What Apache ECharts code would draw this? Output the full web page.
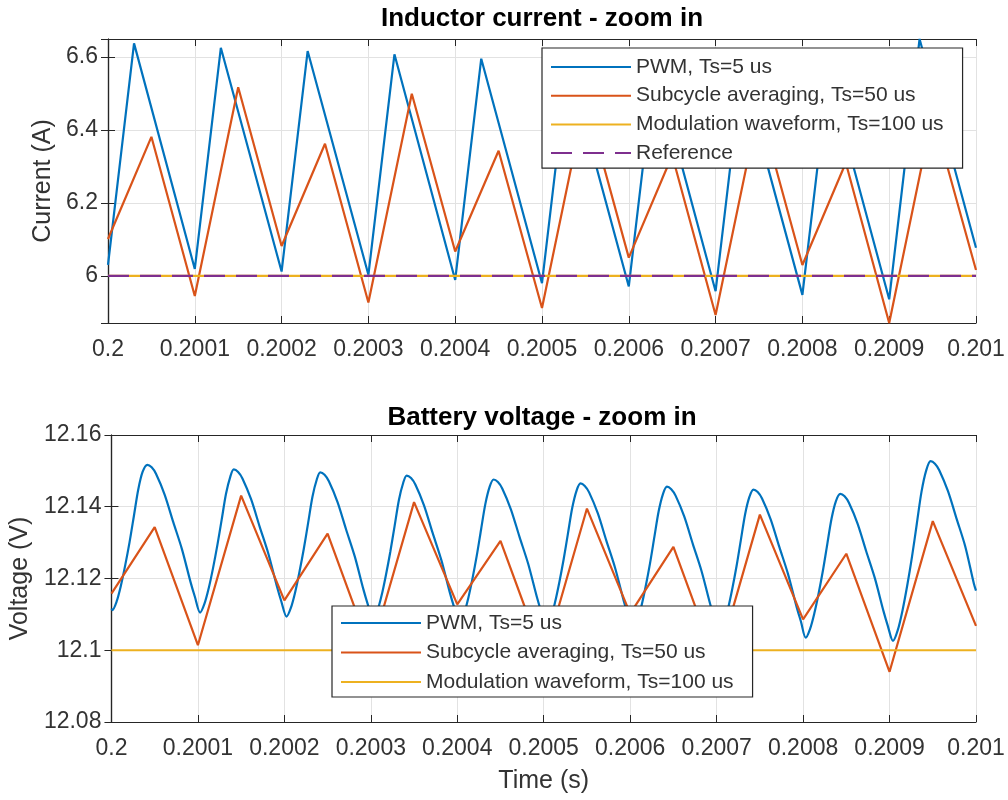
<!DOCTYPE html>
<html><head><meta charset="utf-8">
<script src="https://cdn.jsdelivr.net/npm/echarts@6/dist/echarts.min.js"></script>
<style>html,body{margin:0;padding:0;background:#fff}#c{width:1008px;height:800px}</style>
</head><body><div id="c"></div>
<script>
// Time axis: microseconds after t = 0.2 s
const xTickLabels = ['0.2','0.2001','0.2002','0.2003','0.2004','0.2005','0.2006','0.2007','0.2008','0.2009','0.201'];
const seriesNames = ['PWM, Ts=5 us','Subcycle averaging, Ts=50 us','Modulation waveform, Ts=100 us','Reference'];

// ---- Inductor current (A) ----
const pwmCurrent = [[0,6.030],[30,6.637],[100,6.019],[130,6.625],[200,6.012],[230,6.616],[300,6.003],[330,6.607],
  [400,5.989],[430,6.595],[500,5.980],[530,6.585],[600,5.971],[630,6.576],[700,5.958],[730,6.563],
  [800,5.948],[830,6.553],[900,5.936],[935,6.649],[1000,6.077]];
const subcycleCurrent = [[0,6.101],[50,6.381],[100,5.945],[150,6.517],[200,6.082],[250,6.362],[300,5.927],[350,6.499],
  [400,6.067],[450,6.343],[500,5.912],[550,6.484],[600,6.050],[650,6.330],[700,5.893],[750,6.465],
  [800,6.030],[850,6.310],[900,5.871],[950,6.445],[1000,6.016]];
const modulationCurrent = [[0,6.0],[1000,6.0]];
const referenceCurrent = [[0,6.0],[1000,6.0]];

// ---- Battery voltage (V) ----
const pwmVoltage = [
 [0,12.1116],[1,12.1112],[6,12.1136],[11,12.1181],[16,12.1238],[21,12.1302],[26,12.1375],[31,12.1448],[36,12.1497],[41.5,12.1517],[46.5,12.1510],[51.5,12.1492],[61.5,12.1434],[71.5,12.1357],[81.5,12.1282],[91.5,12.1190],[96.5,12.1149],
 [102.5,12.1105],[107.5,12.1129],[112.5,12.1173],[117.5,12.1229],[122.5,12.1293],[127.5,12.1364],[132.5,12.1436],[137.5,12.1484],[141.5,12.1504],[146.5,12.1497],[151.5,12.1479],[161.5,12.1421],[171.5,12.1344],[181.5,12.1269],[191.5,12.1177],[196.5,12.1136],
 [202.5,12.1094],[207.5,12.1118],[212.5,12.1162],[217.5,12.1219],[222.5,12.1283],[227.5,12.1355],[232.5,12.1428],[237.5,12.1476],[241.5,12.1496],[246.5,12.1489],[251.5,12.1471],[261.5,12.1413],[271.5,12.1336],[281.5,12.1261],[291.5,12.1169],[296.5,12.1128],
 [302.5,12.1085],[307.5,12.1109],[312.5,12.1153],[317.5,12.1210],[322.5,12.1274],[327.5,12.1346],[332.5,12.1419],[337.5,12.1467],[341.5,12.1487],[346.5,12.1480],[351.5,12.1462],[361.5,12.1404],[371.5,12.1327],[381.5,12.1252],[391.5,12.1160],[396.5,12.1119],
 [402.5,12.1075],[407.5,12.1099],[412.5,12.1143],[417.5,12.1199],[422.5,12.1263],[427.5,12.1336],[432.5,12.1408],[437.5,12.1456],[442,12.1476],[447,12.1469],[452,12.1451],[462,12.1393],[472,12.1316],[482,12.1241],[492,12.1149],[497,12.1108],
 [503,12.1065],[508,12.1089],[513,12.1133],[518,12.1189],[523,12.1253],[528,12.1325],[533,12.1397],[538,12.1445],[542.5,12.1465],[547.5,12.1458],[552.5,12.1440],[562.5,12.1382],[572.5,12.1305],[582.5,12.1230],[592.5,12.1138],[597.5,12.1097],
 [603,12.1055],[608,12.1079],[613,12.1123],[618,12.1179],[623,12.1243],[628,12.1316],[633,12.1388],[638,12.1436],[642.5,12.1456],[647.5,12.1449],[652.5,12.1431],[662.5,12.1373],[672.5,12.1296],[682.5,12.1221],[692.5,12.1129],[697.5,12.1088],
 [703,12.1045],[708,12.1069],[713,12.1114],[718,12.1170],[723,12.1234],[728,12.1307],[733,12.1380],[738,12.1428],[742.5,12.1448],[747.5,12.1441],[752.5,12.1423],[762.5,12.1365],[772.5,12.1288],[782.5,12.1213],[792.5,12.1121],[797.5,12.1080],
 [803,12.1035],[808,12.1059],[813,12.1103],[818,12.1159],[823,12.1223],[828,12.1296],[833,12.1368],[838,12.1416],[843,12.1436],[848,12.1429],[853,12.1411],[863,12.1353],[873,12.1276],[883,12.1201],[893,12.1109],[898,12.1068],
 [904,12.1026],[909.5,12.1056],[915,12.1111],[920.5,12.1181],[926,12.1261],[931.5,12.1352],[937,12.1442],[942.5,12.1502],[947.5,12.1527],[952.5,12.1520],[957.5,12.1502],[967.5,12.1444],[977.5,12.1367],[987.5,12.1290],[997.5,12.1186],[1000,12.1166]
];
const subcycleVoltage = [[0,12.1158],[50,12.1343],[100,12.1014],[150,12.1431],[200,12.1139],[250,12.1325],[300,12.0996],[350,12.1413],
  [400,12.1128],[450,12.1305],[500,12.0977],[550,12.1395],[600,12.1102],[650,12.1288],[700,12.0960],[750,12.1378],
  [800,12.1086],[850,12.1269],[900,12.0940],[950,12.1360],[1000,12.1068]];
const modulationVoltage = [[0,12.1],[1000,12.1]];

const colors = ['#0072BD','#D95319','#EDB120','#7E2F8E'];
const FONT = 'Liberation Sans, Arial, Helvetica, sans-serif';
const AX = '#262626';
const TXT = '#333333';
const GRIDC = '#e2e2e2';

const topVals = [].concat(pwmCurrent, subcycleCurrent, modulationCurrent, referenceCurrent).map(p => p[1]);
const topMin = Math.min.apply(null, topVals), topMax = Math.max.apply(null, topVals);

function xMain(gi, withName) {
  const a = {
    gridIndex: gi, type: 'value', min: 0, max: 1000, interval: 100,
    axisLine: { show: true, lineStyle: { color: AX, width: 1.2 } },
    axisTick: { show: true, inside: true, length: 7, lineStyle: { color: AX } },
    axisLabel: { fontSize: 23, color: TXT, fontFamily: FONT, margin: 15,
      formatter: v => xTickLabels[Math.round(v / 100)] },
    splitLine: { show: true, lineStyle: { color: GRIDC, width: 1 } }
  };
  if (withName) {
    a.name = 'Time (s)'; a.nameLocation = 'middle'; a.nameGap = 47;
    a.nameTextStyle = { fontSize: 25, color: TXT, fontFamily: FONT };
  }
  return a;
}
function xMirror(gi) {
  return { gridIndex: gi, type: 'value', position: 'top', min: 0, max: 1000, interval: 100,
    axisLine: { show: true, lineStyle: { color: AX, width: 1.2 } },
    axisTick: { show: true, inside: true, length: 7, lineStyle: { color: AX } },
    axisLabel: { show: false }, splitLine: { show: false } };
}
const topFmt = v => (Math.abs(v * 5 - Math.round(v * 5)) < 1e-6) ? String(+v.toFixed(1)) : '';

const legendCommon = {
  orient: 'vertical', itemWidth: 80, itemHeight: 12,
  backgroundColor: '#fff', borderColor: AX, borderWidth: 1.2, borderRadius: 0,
  selectedMode: false, itemStyle: { opacity: 0 },
  textStyle: { fontSize: 21, color: TXT, fontFamily: FONT, lineHeight: 24 }
};

const option = {
  animation: false,
  backgroundColor: '#fff',
  grid: [
    { left: 108, top: 39, width: 868, height: 284 },
    { left: 108, top: 435, width: 868, height: 287 }
  ],
  xAxis: [ xMain(0, false), xMirror(0), xMain(1, true), xMirror(1) ],
  yAxis: [
    { gridIndex: 0, type: 'value', min: topMin, max: topMax, splitNumber: 4,
      name: 'Current (A)', nameLocation: 'middle', nameGap: 44,
      nameTextStyle: { fontSize: 25, color: TXT, fontFamily: FONT },
      axisLine: { show: true, lineStyle: { color: AX, width: 1.2 } },
      axisTick: { show: true, inside: true, length: 7, lineStyle: { color: AX } },
      axisLabel: { fontSize: 23, color: TXT, fontFamily: FONT, margin: 10, formatter: topFmt, showMinLabel: false, showMaxLabel: false },
      splitLine: { show: true, lineStyle: { color: GRIDC, width: 1 } } },
    { gridIndex: 0, type: 'value', position: 'right', min: topMin, max: topMax, splitNumber: 4,
      axisLine: { show: true, lineStyle: { color: AX, width: 1.2 } },
      axisTick: { show: true, inside: true, length: 7, lineStyle: { color: AX } },
      axisLabel: { show: false }, splitLine: { show: false } },
    { gridIndex: 1, type: 'value', min: 12.08, max: 12.16, interval: 0.02,
      name: 'Voltage (V)', nameLocation: 'middle', nameGap: 72,
      nameTextStyle: { fontSize: 25, color: TXT, fontFamily: FONT },
      axisLine: { show: true, lineStyle: { color: AX, width: 1.2 } },
      axisTick: { show: true, inside: true, length: 7, lineStyle: { color: AX } },
      axisLabel: { fontSize: 23, color: TXT, fontFamily: FONT, margin: 10 },
      splitLine: { show: true, lineStyle: { color: GRIDC, width: 1 } } },
    { gridIndex: 1, type: 'value', position: 'right', min: 12.08, max: 12.16, interval: 0.02,
      axisLine: { show: true, lineStyle: { color: AX, width: 1.2 } },
      axisTick: { show: true, inside: true, length: 7, lineStyle: { color: AX } },
      axisLabel: { show: false }, splitLine: { show: false } }
  ],
  graphic: [
    { type: 'text', x: 542, y: 19, style: { text: 'Inductor current - zoom in', font: 'bold 26px ' + FONT, fill: '#000', textAlign: 'center', textVerticalAlign: 'middle' } },
    { type: 'text', x: 542, y: 418, style: { text: 'Battery voltage - zoom in', font: 'bold 26px ' + FONT, fill: '#000', textAlign: 'center', textVerticalAlign: 'middle' } }
  ],
  legend: [
    Object.assign({}, legendCommon, { data: seriesNames, left: 542, top: 48, itemGap: 4.7, padding: [7, 19, 3, 8] }),
    Object.assign({}, legendCommon, { data: seriesNames.slice(0, 3), left: 332, top: 606, itemGap: 5.5, padding: [5, 19, 3, 8] })
  ],
  series: [
    { name: seriesNames[0], type: 'line', xAxisIndex: 0, yAxisIndex: 0, data: pwmCurrent, symbol: 'none', color: colors[0], lineStyle: { width: 2.2, color: colors[0] } },
    { name: seriesNames[1], type: 'line', xAxisIndex: 0, yAxisIndex: 0, data: subcycleCurrent, symbol: 'none', color: colors[1], lineStyle: { width: 2.2, color: colors[1] } },
    { name: seriesNames[2], type: 'line', xAxisIndex: 0, yAxisIndex: 0, data: modulationCurrent, symbol: 'none', color: colors[2], lineStyle: { width: 2.2, color: colors[2] } },
    { name: seriesNames[3], type: 'line', xAxisIndex: 0, yAxisIndex: 0, data: referenceCurrent, symbol: 'none', color: colors[3], lineStyle: { width: 2.2, color: colors[3], type: [21, 11] } },
    { name: seriesNames[0], type: 'line', xAxisIndex: 2, yAxisIndex: 2, data: pwmVoltage, symbol: 'none', smooth: 0.3, color: colors[0], lineStyle: { width: 2.2, color: colors[0] } },
    { name: seriesNames[1], type: 'line', xAxisIndex: 2, yAxisIndex: 2, data: subcycleVoltage, symbol: 'none', color: colors[1], lineStyle: { width: 2.2, color: colors[1] } },
    { name: seriesNames[2], type: 'line', xAxisIndex: 2, yAxisIndex: 2, data: modulationVoltage, symbol: 'none', color: colors[2], lineStyle: { width: 2.2, color: colors[2] } }
  ]
};
const chart = echarts.init(document.getElementById('c'), null, { renderer: 'canvas' });
chart.setOption(option);
</script>
</body></html>
